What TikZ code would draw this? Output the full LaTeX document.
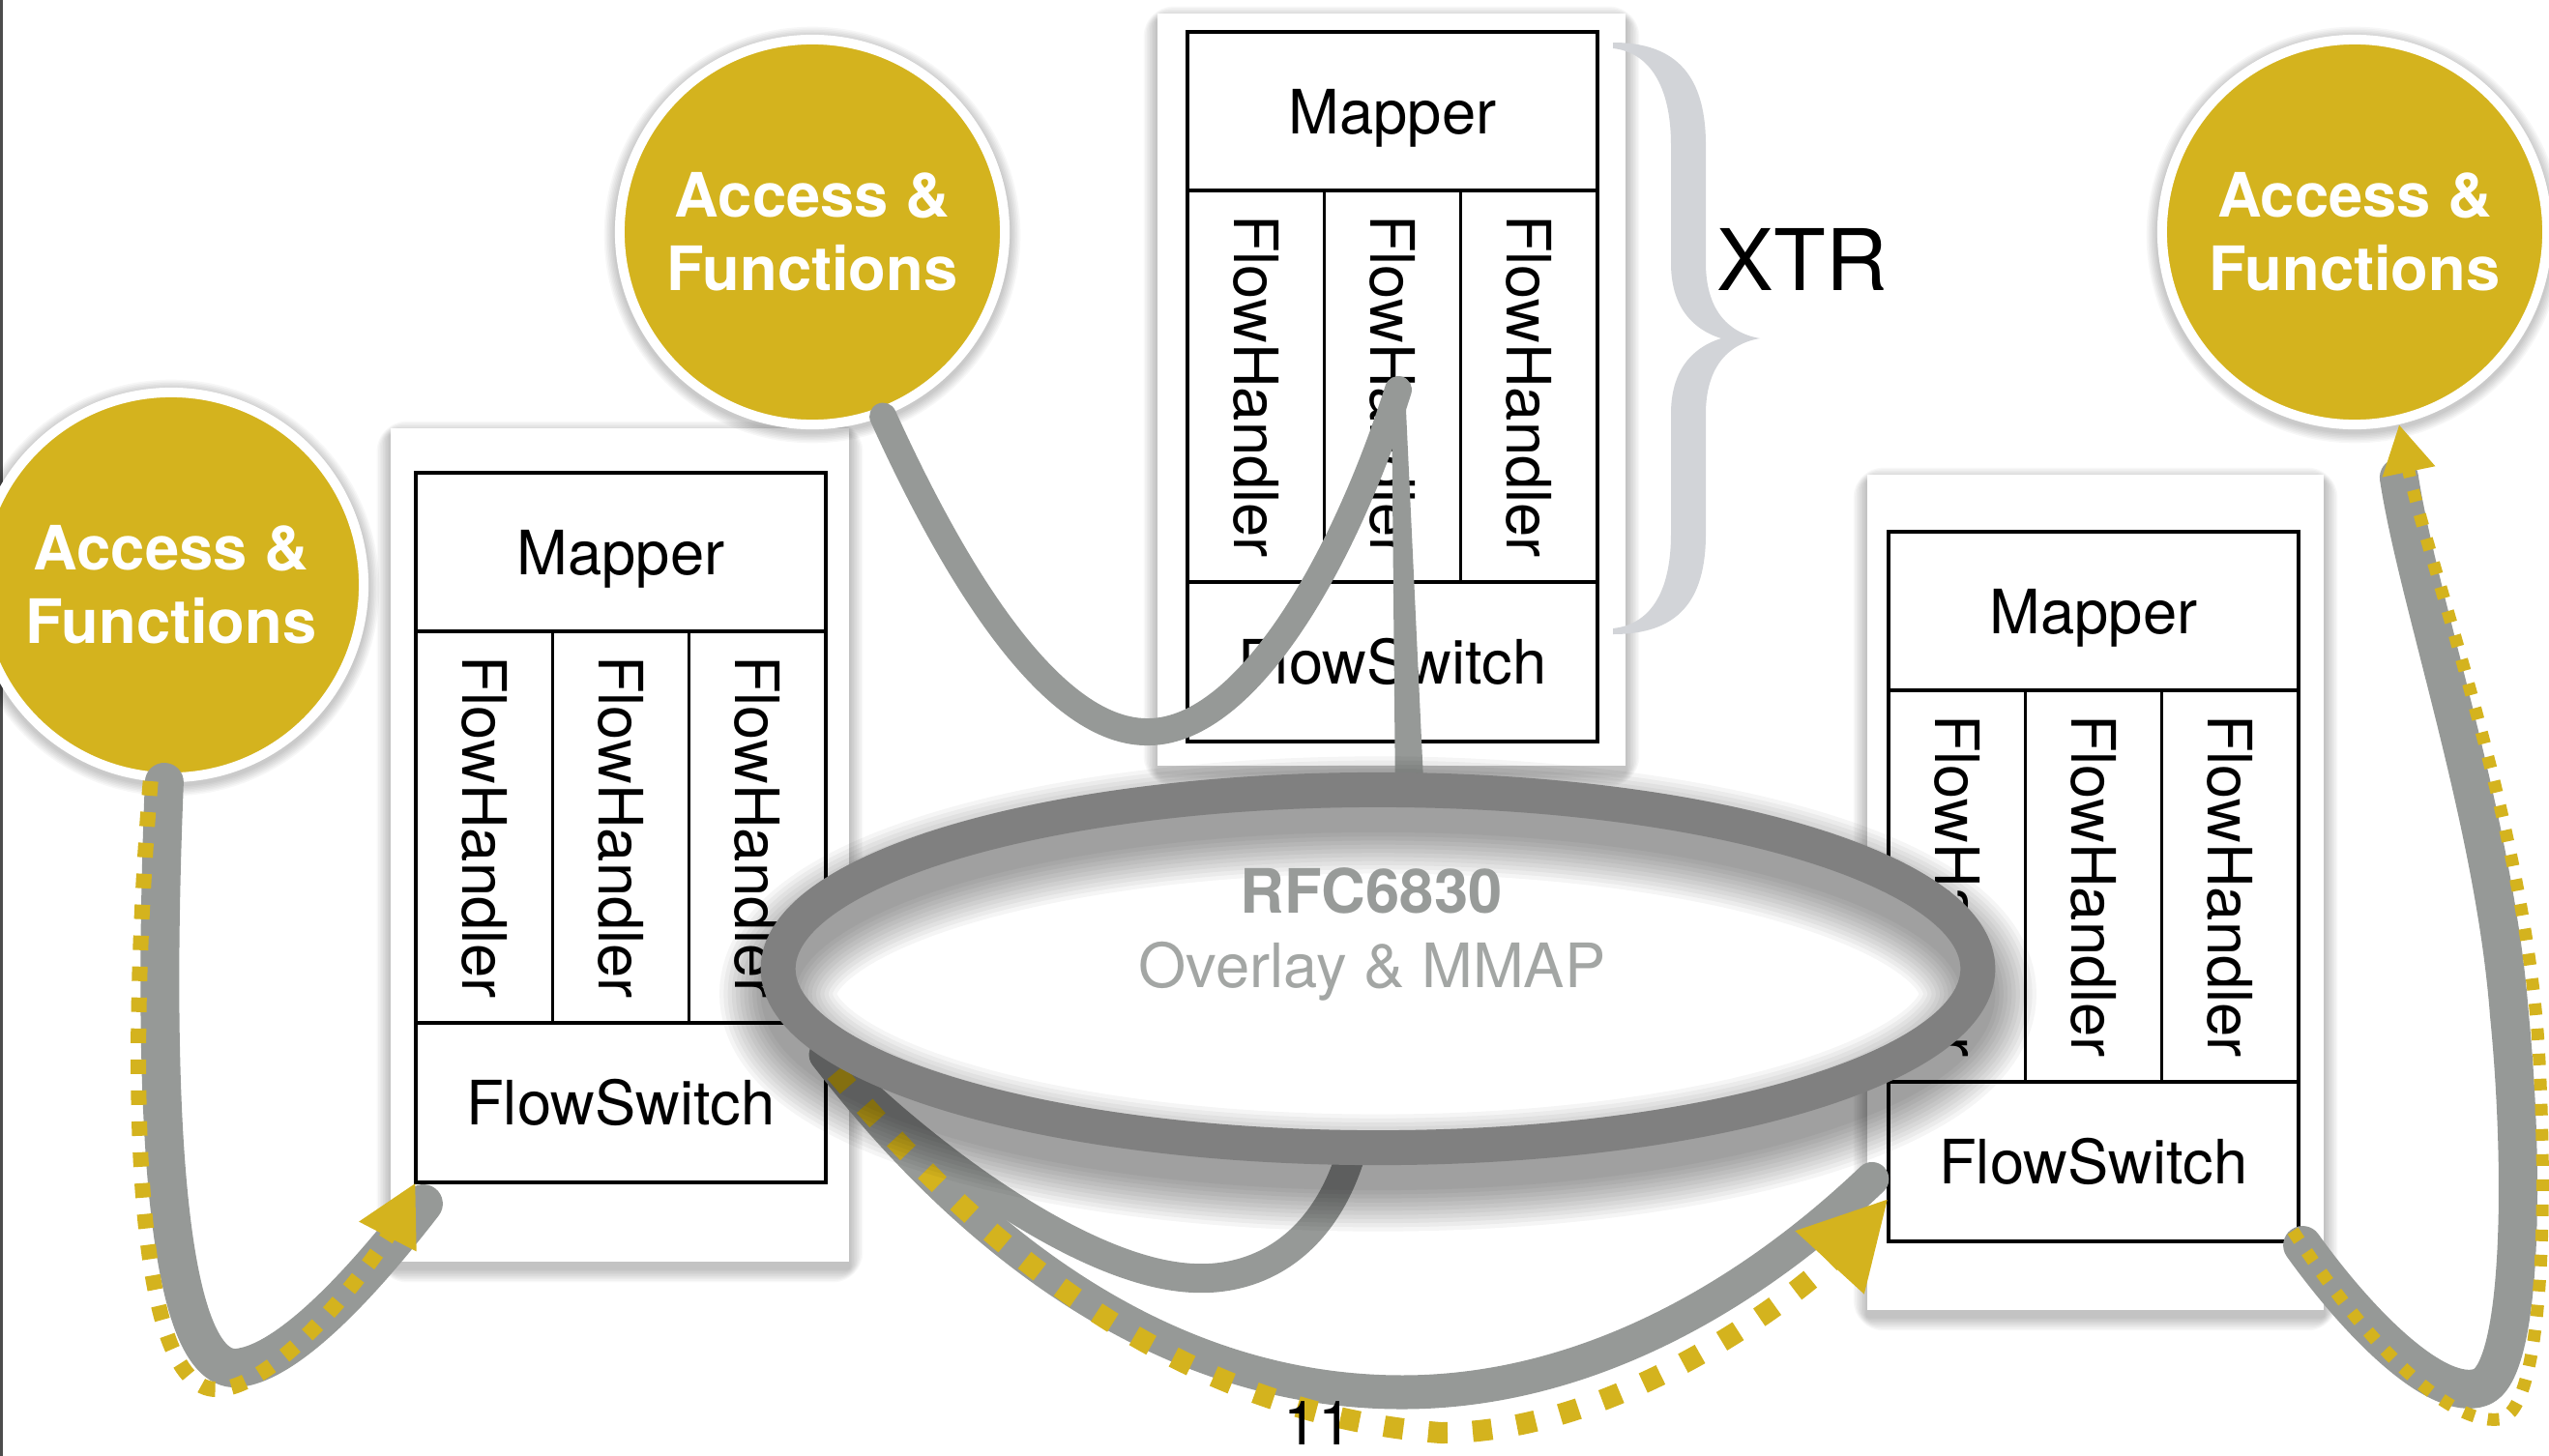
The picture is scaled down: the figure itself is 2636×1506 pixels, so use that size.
\documentclass[tikz,border=0pt]{standalone}
\usepackage{fontspec}
\setmainfont{TeX Gyre Heros}
\usetikzlibrary{shapes.geometric,arrows.meta,calc}

\definecolor{gold}{RGB}{212,179,30}
\definecolor{brush}{RGB}{150,153,151}
\definecolor{ringgray}{RGB}{128,128,128}
\definecolor{bracegray}{RGB}{210,212,216}
\definecolor{rfcgray}{RGB}{152,155,153}
\definecolor{ovlgray}{RGB}{163,166,164}

\pgfdeclarelayer{conn}
\pgfdeclarelayer{ring}
\pgfsetlayers{main,conn,ring}

\newcommand\modfont{\fontsize{18pt}{21pt}\selectfont}
% soft shadow under a white panel: x1 y1 x2 y2
\newcommand\panelshadow[4]{%
  \foreach \k in {1,...,9}{%
    \fill[black,opacity=0.028,rounded corners=\k pt]
      ({#1-1.6*\k},{#2-1.6*\k+7}) rectangle ({#3+1.6*\k},{#4+1.6*\k+7});}}
% soft halo round a circle: x y
\newcommand\circhalo[2]{%
  \foreach \k in {1,...,7}{%
    \fill[black,opacity=0.03] (#1,{#2+3}) circle[radius={2.04cm+\k*0.016cm}];}}

\tikzset{
  cell/.style={draw=black, line width=1pt, inner sep=0pt, outer sep=0pt, font=\modfont},
  htext/.style={rotate=-90, inner sep=0pt, font=\modfont},
  panel/.style={fill=white, inner sep=0pt, outer sep=0pt},
  circ/.style={circle, fill=gold, draw=white, line width=0.1cm, minimum size=3.98cm,
    inner sep=0pt, text=white, align=center,
    font={\fontsize{18pt}{21.6pt}\selectfont\bfseries}},
  brushline/.style={draw=brush, line cap=round, line join=round},
  goldline/.style={draw=gold},
  module/.pic={
    \node[cell, minimum width=4.24cm, minimum height=1.64cm, text depth=0pt] (-map) at (212,82) {Mapper};
    \foreach \i in {0,1,2}{
      \node[cell, minimum width=1.4133cm, minimum height=4.05cm] (-h\i) at ({70.67+141.33*\i},366.5) {};
      \node[htext] at ({70.67+141.33*\i},366.5) {FlowHandler};
    }
    \node[cell, minimum width=4.24cm, minimum height=1.65cm] (-sw) at (212,651.5) {FlowSwitch};
  }
}

\begin{document}
\begin{tikzpicture}[x=0.01cm, y=-0.01cm]
\useasboundingbox (0,0) rectangle (2636,1506);
\fill[white] (0,0) rectangle (2636,1506);
\draw[black!70, line width=0.025cm] (1.5,0) -- (1.5,1506);

% ---- the three switch modules on their white cards ----
\panelshadow{404}{443}{878}{1305}
\node[panel, minimum width=4.74cm, minimum height=8.62cm] (Lpanel) at (641,874) {};
\pic (L) at (430,489) {module};

\panelshadow{1197}{14}{1681}{792}
\node[panel, minimum width=4.84cm, minimum height=7.78cm] (Mpanel) at (1439,403) {};
\pic (M) at (1228,33) {module};

\panelshadow{1931}{491}{2403}{1355}
\node[panel, minimum width=4.72cm, minimum height=8.64cm] (Rpanel) at (2167,923) {};
\pic (R) at (1953,550) {module};

% ---- XTR brace ----
\fill[bracegray] (1668,44) .. controls (1735,44) and (1764,80) .. (1764,150) -- (1764,272)
  .. controls (1764,318) and (1785,344) .. (1820,350)
  .. controls (1785,356) and (1764,382) .. (1764,428) -- (1764,552)
  .. controls (1764,622) and (1735,656) .. (1668,656) -- (1668,650)
  .. controls (1705,646) and (1728,615) .. (1728,552) -- (1728,428)
  .. controls (1728,385) and (1748,360) .. (1780,350)
  .. controls (1748,340) and (1728,315) .. (1728,272) -- (1728,150)
  .. controls (1728,88) and (1705,54) .. (1668,50) -- cycle;
\node[font={\fontsize{25pt}{30pt}\selectfont}, anchor=base west, inner sep=0pt] (xtr) at (1775,300) {XTR};

% ---- access & functions discs ----
\circhalo{177}{605}
\node[circ] (Cleft) at (177,605) {Access \&\\Functions};
\circhalo{840}{240}
\node[circ] (Ctop) at (840,240) {Access \&\\Functions};
\circhalo{2435}{240}
\node[circ] (Cright) at (2435,240) {Access \&\\Functions};

% ---- RFC6830 overlay ring ----
\begin{pgfonlayer}{ring}
\node[ellipse, minimum width=12.4cm, minimum height=3.7cm, inner sep=0pt, outer sep=0pt, fill=white] (E) at (1425,1002) {};
\foreach \k in {0,...,10}{
  \draw[black, opacity=0.04, line width={0.36cm+\k*0.085cm}] ($(E.center)+(0,26)$) ellipse [x radius=6.2cm, y radius=1.85cm];
}
\draw[ringgray, line width=0.36cm] (E.center) ellipse [x radius=6.2cm, y radius=1.85cm];
\node[font={\fontsize{18pt}{21pt}\selectfont\bfseries}, text=rfcgray, inner sep=0pt] (rfc) at (1418,921) {RFC6830};
\node[font=\modfont, text=ovlgray, text depth=0pt, inner sep=0pt] (ovl) at (1419,998) {Overlay \& MMAP};
\end{pgfonlayer}

% ---- connectors ----
\coordinate (hub) at (1446,403);
\coordinate (Lhook) at ($(L-sw.north east)!0.2!(L-sw.south east)$);
\coordinate (Rhook) at ($(R-sw.north west)!0.73!(R-sw.south west)$);
\coordinate (Etop) at ($(E.north)+(33,12)$);

\begin{pgfonlayer}{conn}
% top disc down through the middle module into the ring
\draw[brushline, line width=0.28cm] (Ctop.-69) .. controls (990,600) and (1090,760) .. (1189,757)
  .. controls (1290,755) and (1390,580) .. (hub);
\fill[brush] ($(hub)+(-7,0)$) -- ($(hub)+(7,0)$) -- ($(Etop)+(15,0)$) -- ($(Etop)+(-15,0)$) -- cycle;

% left disc to the left module
\draw[brushline, line width=0.4cm] (Cleft.-92) .. controls (158,1100) and (165,1420) .. (245,1415)
  .. controls (300,1410) and (380,1320) .. ($(L-sw.south west)+(8,22)$);
\draw[goldline, line width=0.16cm, dash pattern=on 0.15cm off 0.17cm, -{Triangle[length=0.63cm,width=0.62cm]}]
  (Cleft.-96) .. controls (132,1100) and (135,1440) .. (225,1437)
  .. controls (290,1435) and (390,1300) .. (L-sw.south west);

% ring back to the left module
\draw[brushline, line width=0.3cm] (E.-98) .. controls (1370,1290) and (1300,1325) .. (1235,1322)
  .. controls (1120,1318) and (950,1190) .. (Lhook);

% left module to the right module
\draw[brushline, line width=0.35cm] (Lhook) .. controls (1000,1280) and (1200,1440) .. (1450,1440)
  .. controls (1650,1440) and (1820,1330) .. ($(Rhook)+(-17,-20)$);
\draw[goldline, line width=0.22cm, dash pattern=on 0.2cm off 0.26cm, -{Triangle[length=0.9cm,width=0.9cm]}]
  ($(Lhook)+(10,18)$) .. controls (1000,1270) and (1200,1460) .. (1490,1482)
  .. controls (1680,1482) and (1870,1330) .. (Rhook);

% right module up to the right disc
\draw[brushline, line width=0.4cm] ($(R-sw.south east)+(4,4)$) .. controls (2440,1370) and (2520,1450) .. (2565,1435)
  .. controls (2610,1420) and (2610,1200) .. (2595,1050)
  .. controls (2580,850) and (2500,620) .. ($(Cright.-77)+(0,55)$);
\draw[goldline, line width=0.13cm, dash pattern=on 0.12cm off 0.14cm, -{Triangle[length=0.5cm,width=0.52cm]}]
  ($(R-sw.south east)+(-6,-11)$) .. controls (2440,1380) and (2530,1475) .. (2585,1468)
  .. controls (2630,1460) and (2635,1250) .. (2625,1080)
  .. controls (2610,850) and (2510,580) .. (Cright.-77);
\end{pgfonlayer}

\begin{pgfonlayer}{ring}
\node[font=\modfont, anchor=base, inner sep=0pt] (pg) at (1363,1494) {11};
\end{pgfonlayer}
\end{tikzpicture}
\end{document}
